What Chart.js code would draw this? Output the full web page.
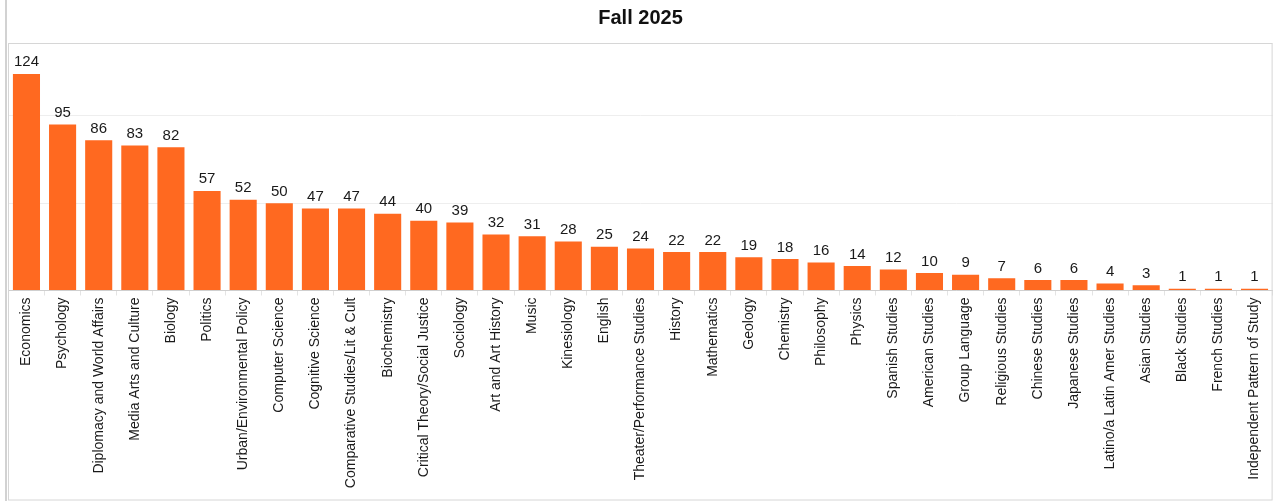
<!DOCTYPE html>
<html>
<head>
<meta charset="utf-8">
<script src="https://cdn.jsdelivr.net/npm/chart.js@4/dist/chart.umd.min.js"></script>
<style>
  html, body { margin: 0; padding: 0; background: #fff; }
  canvas { display: block; }
</style>
</head>
<body>
<canvas id="chart" width="1275" height="501"></canvas>
<script>
const majors = [
  'Economics', 'Psychology', 'Diplomacy and World Affairs', 'Media Arts and Culture', 'Biology',
  'Politics', 'Urban/Environmental Policy', 'Computer Science', 'Cognitive Science',
  'Comparative Studies/Lit & Cult', 'Biochemistry', 'Critical Theory/Social Justice', 'Sociology',
  'Art and Art History', 'Music', 'Kinesiology', 'English', 'Theater/Performance Studies',
  'History', 'Mathematics', 'Geology', 'Chemistry', 'Philosophy', 'Physics', 'Spanish Studies',
  'American Studies', 'Group Language', 'Religious Studies', 'Chinese Studies', 'Japanese Studies',
  'Latino/a Latin Amer Studies', 'Asian Studies', 'Black Studies', 'French Studies',
  'Independent Pattern of Study'
];
const students = [124, 95, 86, 83, 82, 57, 52, 50, 47, 47, 44, 40, 39, 32, 31, 28, 25, 24,
  22, 22, 19, 18, 16, 14, 12, 10, 9, 7, 6, 6, 4, 3, 1, 1, 1];
const yMax = 141.7;

// value labels above each bar
const barLabels = {
  id: 'barLabels',
  afterDatasetsDraw(chart) {
    const ctx = chart.ctx;
    const meta = chart.getDatasetMeta(0);
    ctx.save();
    ctx.font = '15px Arial, "Liberation Sans", sans-serif';
    ctx.fillStyle = '#1a1a1a';
    ctx.textAlign = 'center';
    ctx.textBaseline = 'alphabetic';
    meta.data.forEach((bar, i) => {
      ctx.fillText(String(students[i]), bar.x, bar.y - 7.5);
    });
    ctx.restore();
  }
};

// light frame round the plot
const frame = {
  id: 'frame',
  afterDraw(chart) {
    const ctx = chart.ctx;
    const a = chart.chartArea;
    ctx.save();
    ctx.strokeStyle = '#d2d2d2';
    ctx.lineWidth = 2;
    ctx.beginPath();
    ctx.moveTo(6, 0);
    ctx.lineTo(6, chart.height);
    ctx.stroke();
    ctx.lineWidth = 1;
    ctx.strokeStyle = '#d6d6d6';
    ctx.strokeRect(8.5, a.top + 0.5, a.right - 8.5 - 0.5, chart.height - a.top - 1.5);
    ctx.restore();
  }
};

new Chart(document.getElementById('chart'), {
  type: 'bar',
  data: {
    labels: majors,
    datasets: [{
      data: students,
      backgroundColor: '#ff6920',
      borderWidth: 0,
      barPercentage: 0.75,
      categoryPercentage: 1.0,
    }]
  },
  options: {
    responsive: false,
    animation: false,
    layout: { padding: { left: 8.4, right: 2.4, top: 0, bottom: 0 } },
    plugins: {
      legend: { display: false },
      tooltip: { enabled: false },
      title: {
        display: true,
        text: 'Fall 2025',
        color: '#111',
        font: { family: 'Arial, "Liberation Sans", sans-serif', size: 20, weight: 'bold' },
        padding: { top: 6.5, bottom: 12.5 },
      },
    },
    scales: {
      x: {
        grid: { display: true, drawOnChartArea: false, drawTicks: true, tickLength: 5, color: '#e4e4e4', offset: true },
        border: { display: true, color: '#cfcfcf' },
        ticks: {
          color: '#1a1a1a',
          font: { family: 'Arial, "Liberation Sans", sans-serif', size: 14 },
          minRotation: 90,
          maxRotation: 90,
          autoSkip: false,
          padding: 2,
        },
        afterFit(scale) { scale.height = 210.5; },
      },
      y: {
        min: 0,
        max: yMax,
        ticks: { display: false, stepSize: 50 },
        grid: { color: '#eeeeee', drawTicks: false },
        border: { display: false },
        afterFit(scale) { scale.width = 0; },
      },
    },
  },
  plugins: [barLabels, frame],
});
</script>
</body>
</html>
